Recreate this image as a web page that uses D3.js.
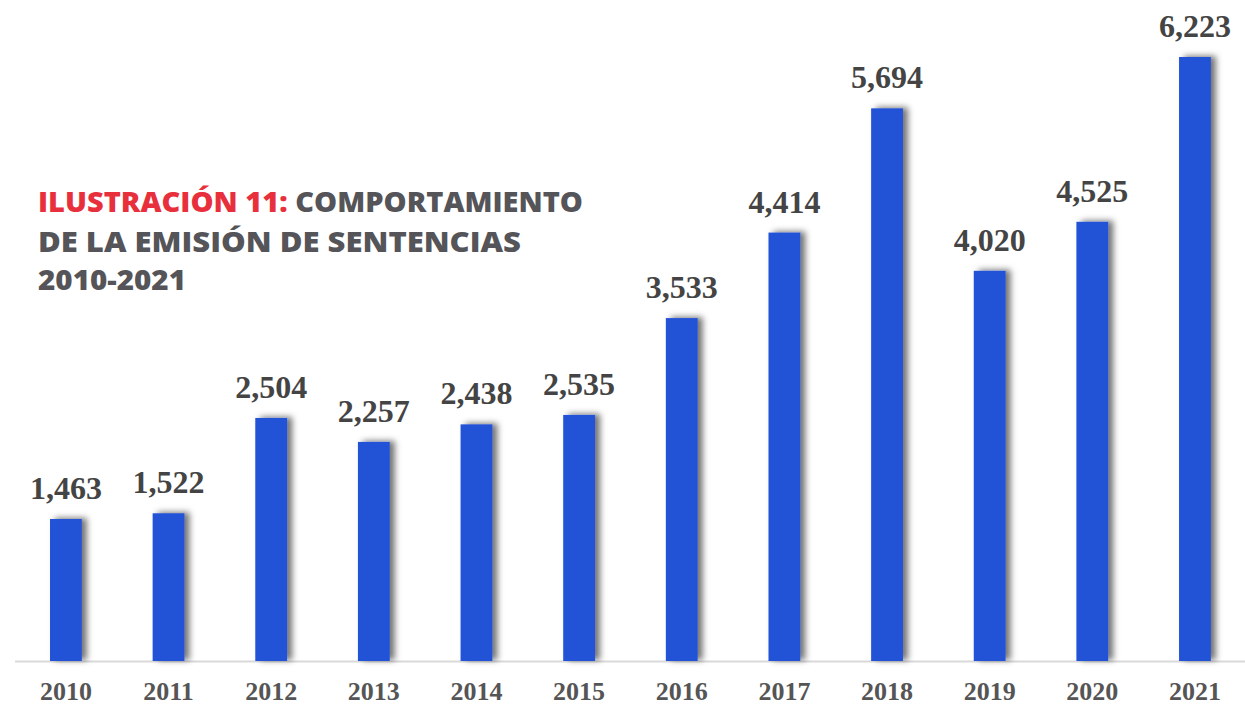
<!DOCTYPE html>
<html>
<head>
<meta charset="utf-8">
<script src="https://cdn.jsdelivr.net/npm/d3@7"></script>
<style>
  html, body { margin: 0; padding: 0; background: #ffffff; }
  svg { display: block; }
</style>
</head>
<body>
<svg id="chart" width="1245" height="707"></svg>
<script>
const years = ["2010","2011","2012","2013","2014","2015","2016","2017","2018","2019","2020","2021"];
const values = [1463, 1522, 2504, 2257, 2438, 2535, 3533, 4414, 5694, 4020, 4525, 6223];
const titleRed = "ILUSTRACIÓN 11:";
const titleLines = [" COMPORTAMIENTO", "DE LA EMISIÓN DE SENTENCIAS", "2010-2021"];

const svg = d3.select("#chart");
const W = 1245, H = 707;
const baseY = 661;

const defs = svg.append("defs");
const f = defs.append("filter").attr("id", "shadow")
  .attr("x", "-50%").attr("y", "-10%").attr("width", "200%").attr("height", "120%");
f.append("feDropShadow").attr("dx", 5).attr("dy", -1).attr("stdDeviation", 3)
  .attr("flood-color", "#000").attr("flood-opacity", 0.55);

const x = d3.scaleBand().domain(years).range([14.6, 14.6 + 102.64 * 12]).paddingInner(0.69).paddingOuter(0.345);
const y = d3.scaleLinear().domain([0, 6223]).range([baseY, 57]);

// baseline axis
svg.append("line").attr("x1", 15).attr("x2", W).attr("y1", baseY + 0.5).attr("y2", baseY + 0.5)
  .attr("stroke", "#d9d9d9").attr("stroke-width", 2);

svg.append("g").selectAll("rect").data(values).join("rect")
  .attr("x", (d, i) => x(years[i]))
  .attr("width", x.bandwidth())
  .attr("y", d => y(d))
  .attr("height", d => baseY - y(d))
  .attr("fill", "#2352d6")
  .attr("filter", "url(#shadow)");

svg.append("g").selectAll("text").data(values).join("text")
  .attr("x", (d, i) => x(years[i]) + x.bandwidth() / 2)
  .attr("y", d => y(d) - 20)
  .attr("text-anchor", "middle")
  .attr("font-family", "'Liberation Serif', 'DejaVu Serif', serif")
  .attr("font-weight", "bold")
  .attr("font-size", 32)
  .attr("fill", "#444444")
  .text(d => d3.format(",")(d));

const xAxis = d3.axisBottom(x).tickSize(0).tickPadding(0);
const gx = svg.append("g").attr("transform", `translate(0, ${baseY})`).call(xAxis);
gx.select(".domain").remove();
gx.selectAll("text")
  .attr("y", 39)
  .attr("dy", 0)
  .attr("font-family", "'Liberation Serif', 'DejaVu Serif', serif")
  .attr("font-weight", "bold")
  .attr("font-size", 26)
  .attr("fill", "#555555");

// title
const tf = "'Open Sans', 'Noto Sans', sans-serif";
const t1 = svg.append("text").attr("x", 38).attr("y", 211.5)
  .attr("font-family", tf).attr("font-weight", 800).attr("font-size", 29)
  .attr("textLength", 545).attr("lengthAdjust", "spacingAndGlyphs");
t1.append("tspan").attr("fill", "#e8303d").text(titleRed);
t1.append("tspan").attr("fill", "#545459").text(titleLines[0]);
svg.append("text").attr("x", 38).attr("y", 251.5)
  .attr("font-family", tf).attr("font-weight", 800).attr("font-size", 29)
  .attr("fill", "#545459")
  .attr("textLength", 483).attr("lengthAdjust", "spacingAndGlyphs")
  .text(titleLines[1]);
svg.append("text").attr("x", 38).attr("y", 290)
  .attr("font-family", tf).attr("font-weight", 800).attr("font-size", 29)
  .attr("fill", "#545459")
  .attr("textLength", 148).attr("lengthAdjust", "spacingAndGlyphs")
  .text(titleLines[2]);
</script>
</body>
</html>
